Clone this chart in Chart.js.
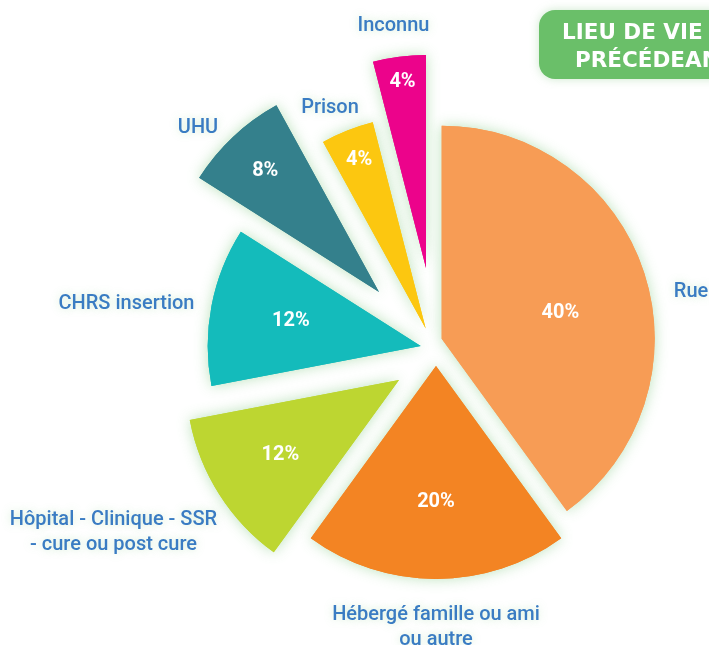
<!DOCTYPE html>
<html>
<head>
<meta charset="utf-8">
<script src="https://cdn.jsdelivr.net/npm/chart.js@4.4.1/dist/chart.umd.min.js"></script>
<style>
  html, body { margin: 0; padding: 0; background: #ffffff; overflow: hidden; width: 709px; height: 645px; }
  #wrap { position: relative; width: 709px; height: 645px; overflow: hidden; }
  #c { position: absolute; left: 0; top: 0; }
  #title {
    position: absolute; left: 539px; top: 10px; width: 230px; height: 69px;
    background: #6abf69; border-radius: 16px; color: #fff;
    font-family: "DejaVu Sans", sans-serif; font-weight: bold; font-size: 21.5px;
    box-shadow: 0 0 10px rgba(110,190,110,0.35);
  }
  #title .l1 { position: absolute; left: 23px; top: 9px; white-space: nowrap; }
  #title .l2 { position: absolute; left: 36px; top: 37px; white-space: nowrap; }
</style>
</head>
<body>
<div id="wrap">
  <canvas id="c" width="709" height="645"></canvas>
  <div id="title"><span class="l1">LIEU DE VIE</span><span class="l2">PRÉCÉDEANT</span></div>
</div>
<script>
// ---- data ----
const categories = [
  ['Rue'],
  ['Hébergé famille ou ami', 'ou autre'],
  ['Hôpital - Clinique - SSR', '- cure ou post cure'],
  ['CHRS insertion'],
  ['UHU'],
  ['Prison'],
  ['Inconnu']
];
const values = [40, 20, 12, 12, 8, 4, 4];

// ---- styles ----
const colors = ['#f79c55', '#f38423', '#bdd631', '#14bbbb', '#34808c', '#fcc710', '#ec038b'];
// per-slice displacement of each exploded wedge (px)
const sliceShift = [[11.7, 3.7], [6, 31], [-31, 45], [-9.3, 11], [-51, -43], [-4.3, -6.4], [-4, -67]];
// percent label placement: fraction of radius along the bisector + angular nudge (rad)
const pctDist = [0.57, 0.64, 0.66, 0.62, 0.78, 0.85, 0.88];
const pctNudge = [0.1, 0, 0, 0, 0, 0, 0];
// category label anchor relative to the pie centre (x centre, first baseline)
const labelAnchor = [[261, -38], [6, 285], [-316.5, 190], [-303.5, -26], [-232, -202], [-100, -222], [-36.5, -304]];
const labelLineH = 25;

const explodePlugin = {
  id: 'explode',
  beforeDatasetDraw(chart, args) {
    const ctx = chart.ctx;
    const arcs = args.meta.data;
    arcs.forEach((arc, i) => {
      ctx.save();
      ctx.translate(sliceShift[i][0], sliceShift[i][1]);
      ctx.shadowColor = 'rgba(105,190,105,0.45)';
      ctx.shadowBlur = 14;
      arc.draw(ctx);
      ctx.restore();
    });
    arcs.forEach((arc, i) => {
      ctx.save();
      ctx.translate(sliceShift[i][0], sliceShift[i][1]);
      arc.draw(ctx);
      ctx.restore();
    });
    return false;
  },
  afterDatasetsDraw(chart) {
    const ctx = chart.ctx;
    const arcs = chart.getDatasetMeta(0).data;
    arcs.forEach((arc, i) => {
      const p = arc.getProps(['x', 'y', 'startAngle', 'endAngle', 'outerRadius'], true);
      const mid = (p.startAngle + p.endAngle) / 2 + pctNudge[i];
      const r = p.outerRadius * pctDist[i];
      const tx = p.x + sliceShift[i][0] + Math.cos(mid) * r;
      const ty = p.y + sliceShift[i][1] + Math.sin(mid) * r;
      ctx.save();
      ctx.fillStyle = '#ffffff';
      ctx.font = 'bold 20px Roboto';
      ctx.textAlign = 'center';
      ctx.textBaseline = 'middle';
      ctx.fillText(values[i] + '%', tx, ty);
      ctx.restore();

      ctx.save();
      ctx.font = '500 20px Roboto';
      ctx.fillStyle = '#3a7cc3';
      ctx.textAlign = 'center';
      ctx.textBaseline = 'alphabetic';
      ctx.shadowColor = 'rgba(120,200,120,0.35)';
      ctx.shadowBlur = 8;
      categories[i].forEach((line, k) => {
        ctx.fillText(line, p.x + labelAnchor[i][0], p.y + labelAnchor[i][1] + k * labelLineH);
      });
      ctx.restore();
    });
  }
};

new Chart(document.getElementById('c'), {
  type: 'pie',
  data: {
    labels: categories.map(c => c.join(' ')),
    datasets: [{
      data: values,
      backgroundColor: colors,
      borderWidth: 0,
      hoverOffset: 0
    }]
  },
  options: {
    responsive: false,
    animation: false,
    radius: 213,
    layout: { padding: { left: 151, top: 25, right: 0, bottom: 0 } },
    plugins: { legend: { display: false }, tooltip: { enabled: false } },
    events: []
  },
  plugins: [explodePlugin]
});
</script>
</body>
</html>
